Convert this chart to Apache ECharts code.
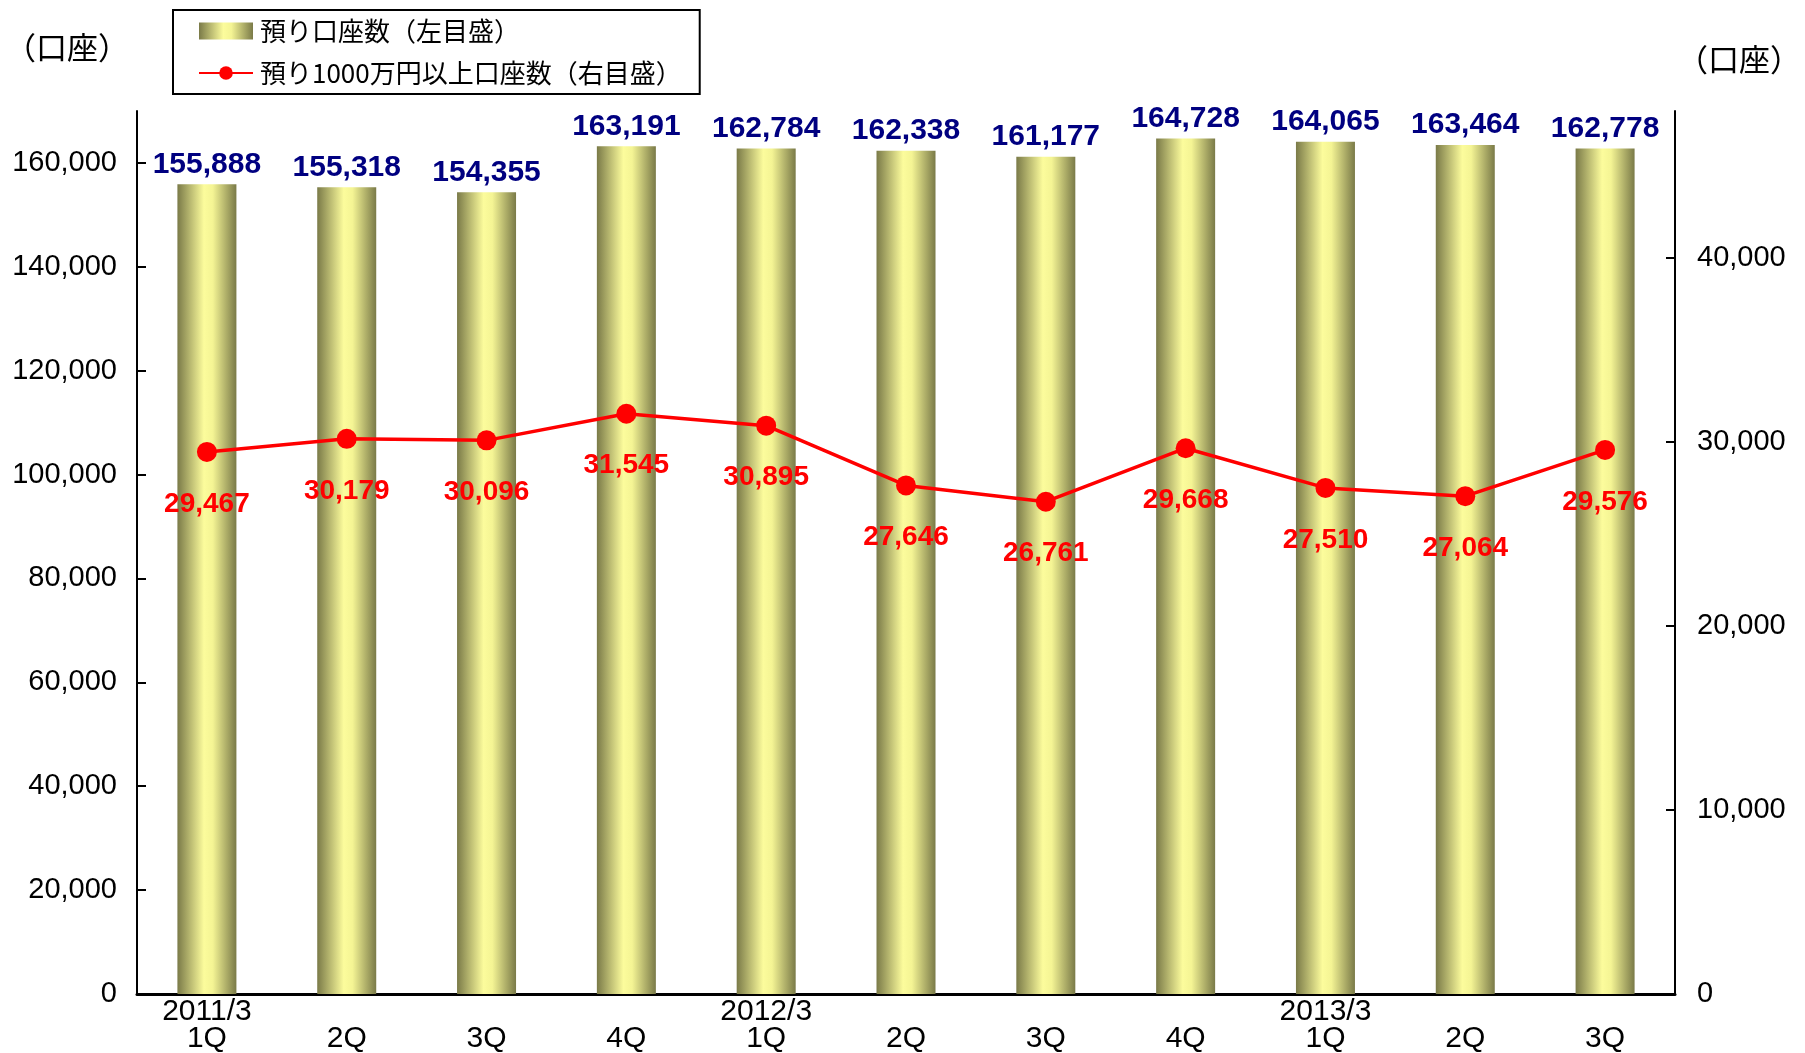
<!DOCTYPE html>
<html>
<head>
<meta charset="utf-8">
<script src="https://cdn.jsdelivr.net/npm/echarts@6/dist/echarts.min.js"></script>
<style>
  html, body { margin: 0; padding: 0; background: #fff; }
  #chart { width: 1805px; height: 1053px; }
</style>
</head>
<body>
<div id="chart"></div>
<script>
// Chart data
const categories = [
  '2011/3\n1Q', '\n2Q', '\n3Q', '\n4Q',
  '2012/3\n1Q', '\n2Q', '\n3Q', '\n4Q',
  '2013/3\n1Q', '\n2Q', '\n3Q'
];
const accounts = [155888, 155318, 154355, 163191, 162784, 162338, 161177, 164728, 164065, 163464, 162778];
const largeAccounts = [29467, 30179, 30096, 31545, 30895, 27646, 26761, 29668, 27510, 27064, 29576];
const seriesNames = ['預り口座数（左目盛）', '預り1000万円以上口座数（右目盛）'];
const unitLabel = '（口座）';

const FONT = '"Liberation Sans", Arial, "Noto Sans CJK JP", sans-serif';
const CJK = '"Noto Sans CJK JP", "Liberation Sans", sans-serif';

const fmt = (v) => Number(v).toLocaleString('en-US');

// olive/yellow cylinder look for the bars
const barFill = {
  type: 'linear', x: 0, y: 0, x2: 1, y2: 0,
  colorStops: [
    { offset: 0, color: '#7a7a48' },
    { offset: 0.45, color: '#fcfc9c' },
    { offset: 0.6, color: '#f4f494' },
    { offset: 1, color: '#7a7a48' },
  ],
};

const chart = echarts.init(document.getElementById('chart'));

chart.setOption({
  backgroundColor: '#ffffff',
  animation: false,
  grid: {
    left: 137, right: 130, top: 111, bottom: 59,
    outerBoundsMode: 'none',
  },
  legend: {
    orient: 'vertical',
    left: 173, top: 10,
    padding: [8, 18, 8, 25],
    itemGap: 16,
    itemWidth: 54,
    itemHeight: 17,
    backgroundColor: '#fff',
    borderColor: '#000',
    borderWidth: 2,
    borderRadius: 0,
    textStyle: { fontFamily: CJK, fontSize: 26, color: '#000', padding: [0, 0, 0, 2] },
    data: [
      { name: seriesNames[0], icon: 'rect' },
      { name: seriesNames[1] },
    ],
  },
  graphic: [
    {
      type: 'text', left: 5, top: 32,
      style: { text: unitLabel, font: '31px ' + CJK, fill: '#000' },
    },
    {
      type: 'text', left: 1677, top: 44,
      style: { text: unitLabel, font: '31px ' + CJK, fill: '#000' },
    },
  ],
  xAxis: {
    type: 'category',
    data: categories,
    boundaryGap: true,
    axisLine: { lineStyle: { color: '#000', width: 3 } },
    axisTick: { inside: true, length: 9, lineStyle: { color: '#000', width: 2 } },
    axisLabel: {
      fontFamily: FONT, fontSize: 30, color: '#000',
      lineHeight: 27, margin: 4, interval: 0,
    },
  },
  yAxis: [
    {
      type: 'value',
      min: 0, max: 170000, interval: 20000,
      splitLine: { show: false },
      axisLine: { show: true, lineStyle: { color: '#000', width: 2 } },
      axisTick: { show: true, inside: true, length: 9, lineStyle: { color: '#000', width: 2 } },
      axisLabel: {
        fontFamily: FONT, fontSize: 29, color: '#000', margin: 20,
        showMaxLabel: false, formatter: fmt,
      },
    },
    {
      type: 'value',
      min: 0, max: 48000, interval: 10000,
      splitLine: { show: false },
      axisLine: { show: true, lineStyle: { color: '#000', width: 2 } },
      axisTick: { show: true, inside: true, length: 9, lineStyle: { color: '#000', width: 2 } },
      axisLabel: {
        fontFamily: FONT, fontSize: 29, color: '#000', margin: 22,
        showMaxLabel: false, formatter: fmt,
      },
    },
  ],
  series: [
    {
      name: seriesNames[0],
      type: 'bar',
      yAxisIndex: 0,
      barWidth: 59,
      data: accounts,
      itemStyle: { color: barFill },
      label: {
        show: true, position: 'top', distance: 5,
        fontFamily: FONT, fontSize: 30, fontWeight: 'bold', color: '#000080',
        formatter: (p) => fmt(p.value),
      },
    },
    {
      name: seriesNames[1],
      type: 'line',
      yAxisIndex: 1,
      data: largeAccounts,
      z: 5,
      symbol: 'circle',
      symbolSize: 20,
      lineStyle: { color: '#ff0000', width: 3.5 },
      itemStyle: { color: '#ff0000' },
      label: {
        show: true, position: 'bottom', distance: 28,
        fontFamily: FONT, fontSize: 28, fontWeight: 'bold', color: '#ff0000',
        formatter: (p) => fmt(p.value),
      },
    },
  ],
});
</script>
</body>
</html>
